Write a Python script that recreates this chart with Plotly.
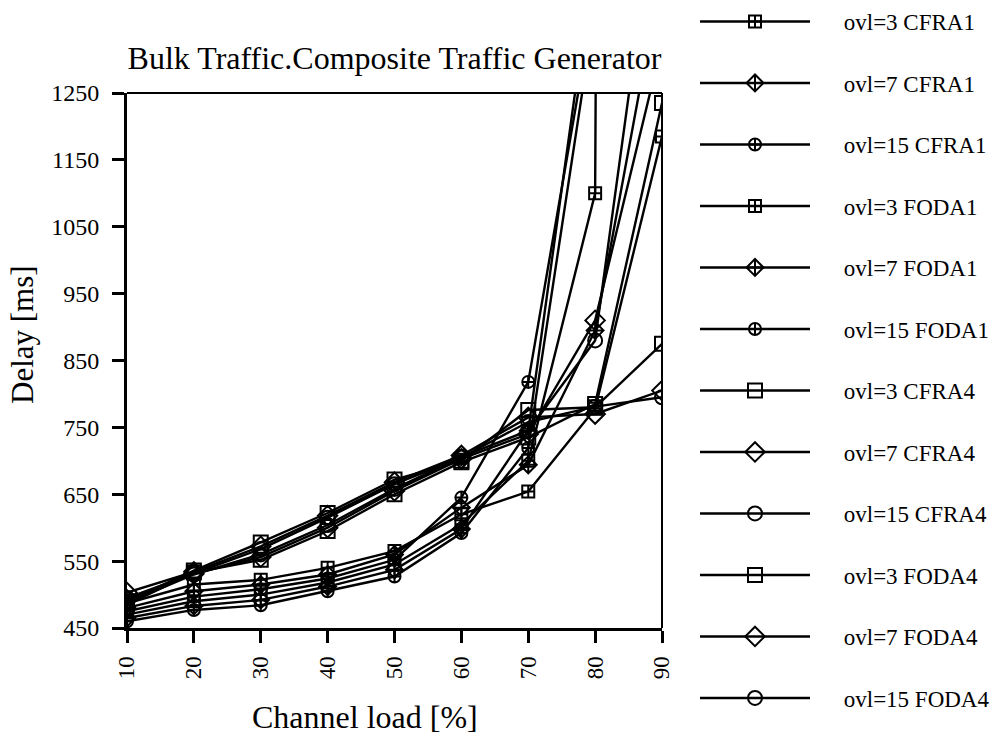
import plotly.graph_objects as go

# ---------------- data ----------------
channel_load = [10, 20, 30, 40, 50, 60, 70, 80, 90]

series_names = [
    "ovl=3 CFRA1", "ovl=7 CFRA1", "ovl=15 CFRA1",
    "ovl=3 FODA1", "ovl=7 FODA1", "ovl=15 FODA1",
    "ovl=3 CFRA4", "ovl=7 CFRA4", "ovl=15 CFRA4",
    "ovl=3 FODA4", "ovl=7 FODA4", "ovl=15 FODA4",
]

cfra1_ovl3 = [487, 515, 522, 540, 565, 620, 654, 778, 1185]
cfra1_ovl7 = [480, 505, 515, 530, 560, 630, 694, 895, 1435]
cfra1_ovl15 = [475, 497, 508, 524, 552, 645, 818, 1397, 2100]
foda1_ovl3 = [470, 490, 500, 518, 545, 605, 700, 1100, 20000]
foda1_ovl7 = [465, 483, 492, 512, 537, 598, 745, 1467, 2200]
foda1_ovl15 = [460, 477, 484, 505, 527, 592, 719, 1378, 2300]
cfra4_ovl3 = [490, 536, 578, 622, 672, 700, 776, 780, 875]
cfra4_ovl7 = [503, 534, 572, 618, 668, 708, 765, 770, 805]
cfra4_ovl15 = [495, 532, 568, 615, 665, 705, 758, 781, 795]
foda4_ovl3 = [485, 533, 552, 595, 650, 698, 735, 785, 1235]
foda4_ovl7 = [492, 531, 556, 600, 655, 703, 740, 910, 1324]
foda4_ovl15 = [488, 530, 560, 604, 658, 706, 745, 880, 1610]

series_values = [
    cfra1_ovl3, cfra1_ovl7, cfra1_ovl15,
    foda1_ovl3, foda1_ovl7, foda1_ovl15,
    cfra4_ovl3, cfra4_ovl7, cfra4_ovl15,
    foda4_ovl3, foda4_ovl7, foda4_ovl15,
]

x_ticks = [10, 20, 30, 40, 50, 60, 70, 80, 90]
y_ticks = [450, 550, 650, 750, 850, 950, 1050, 1150, 1250]
y_tick_labels = ["450", "550", "650", "750", "850", "950", "1050", "1150", "1250"]

title_text = "Bulk Traffic.Composite Traffic Generator"
x_title = "Channel load [%]"
y_title = "Delay [ms]"

# ---------------- styles ----------------
FONT = "Liberation Serif"
symbols = ["square-cross-open", "diamond-cross-open", "circle-cross-open"] * 2 + \
          ["square-open", "diamond-open", "circle-open"] * 2
sizes = [12, 13, 12] * 2 + [14, 15, 14] * 2
LEGEND_PAD = "\u00a0" * 5  # gap between legend sample line and its label

fig = go.Figure()
for name, vals, sym, sz in zip(series_names, series_values, symbols, sizes):
    fig.add_trace(go.Scatter(
        x=channel_load, y=vals, name=LEGEND_PAD + name, legendgroup=name,
        mode="lines+markers",
        line=dict(color="black", width=2.4),
        marker=dict(symbol=sym, size=sz, color="black",
                    line=dict(color="black", width=2)),
        cliponaxis=True,
    ))

fig.update_layout(
    width=1000, height=738,
    margin=dict(l=127, r=338, t=93, b=110),
    paper_bgcolor="white", plot_bgcolor="white",
    font=dict(family=FONT, color="black", size=22),
    title=dict(text=title_text, font=dict(family=FONT, size=32, color="black"),
               x=0.5, xref="paper", xanchor="center",
               y=1 - 58 / 738, yref="container", yanchor="middle"),
    showlegend=True,
    legend=dict(
        xref="container", yref="container", x=0.695, y=1.0,
        xanchor="left", yanchor="top",
        font=dict(family=FONT, size=23, color="black"),
        itemwidth=110, tracegroupgap=28.6, traceorder="grouped",
        bgcolor="rgba(0,0,0,0)", maxheight=738,
    ),
)

fig.update_xaxes(
    range=[10, 90], tickvals=x_ticks, ticktext=[str(v) for v in x_ticks],
    tickangle=-90, ticks="outside", ticklen=12, tickwidth=3, tickcolor="black",
    showline=True, linewidth=3, linecolor="black", mirror=False,
    showgrid=False, zeroline=False, ticklabelstandoff=4,
    tickfont=dict(family=FONT, size=23, color="black"),
)
fig.update_yaxes(
    range=[450, 1250], tickvals=y_ticks, ticktext=y_tick_labels,
    ticks="outside", ticklen=12, tickwidth=3, tickcolor="black",
    showline=True, linewidth=3, linecolor="black", mirror=False,
    showgrid=False, zeroline=False, ticklabelstandoff=8,
    tickfont=dict(family=FONT, size=24, color="black"),
)

# thinner top and right frame lines
fig.add_shape(type="line", xref="paper", yref="paper", x0=0, x1=1, y0=1, y1=1,
              line=dict(color="black", width=2))
fig.add_shape(type="line", xref="paper", yref="paper", x0=1, x1=1, y0=0, y1=1,
              line=dict(color="black", width=2))

# axis titles
fig.add_annotation(text=x_title, xref="paper", yref="paper",
                   x=(365 - 127) / 535, y=(628 - 717) / 535,
                   showarrow=False, xanchor="center", yanchor="middle",
                   font=dict(family=FONT, size=32, color="black"))
fig.add_annotation(text=y_title, xref="paper", yref="paper",
                   x=(22 - 127) / 535, y=(628 - 335) / 535, textangle=-90,
                   showarrow=False, xanchor="center", yanchor="middle",
                   font=dict(family=FONT, size=31, color="black"))

fig.write_html("out.html")
